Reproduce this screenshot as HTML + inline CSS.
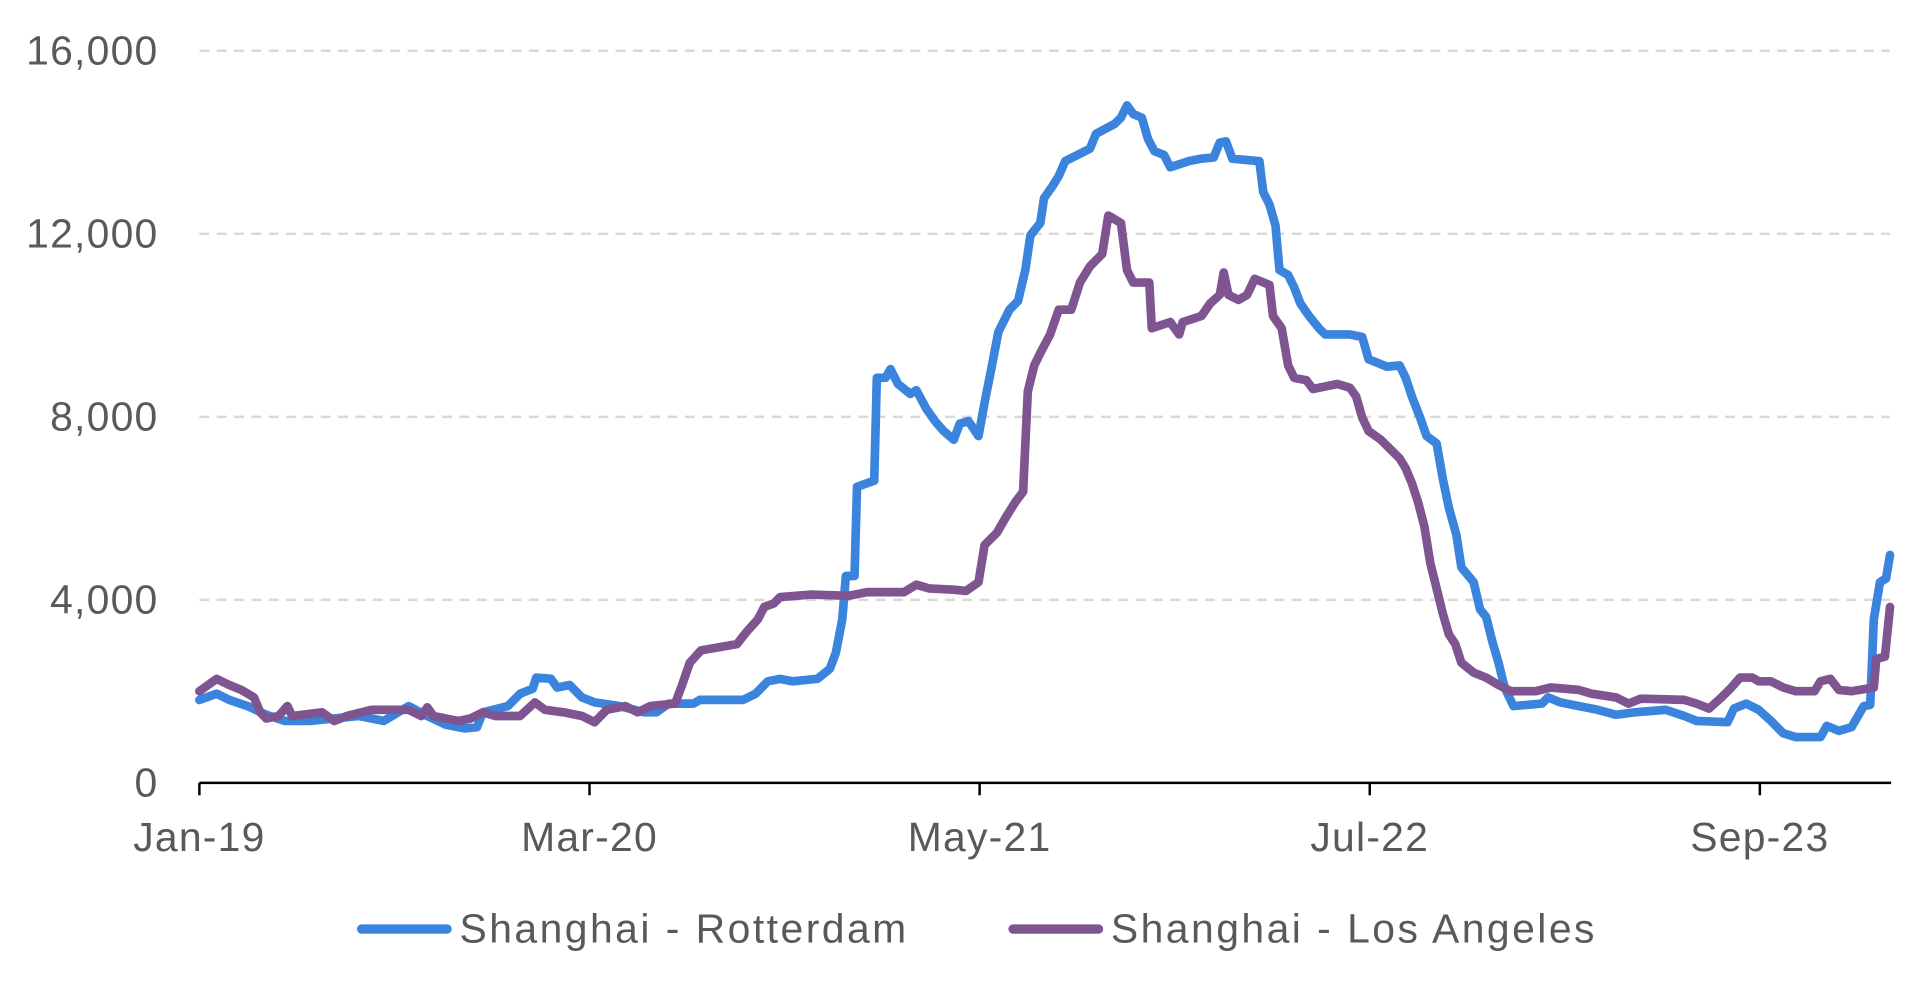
<!DOCTYPE html>
<html><head><meta charset="utf-8"><style>
html,body{margin:0;padding:0;background:#fff;}
svg{display:block;font-family:"Liberation Sans",sans-serif;}
</style></head><body>
<svg id="chart" width="1932" height="991" viewBox="0 0 1560 800" preserveAspectRatio="none">
<g id="grid"></g>
<g id="yaxis"></g>
<g id="xaxis"></g>
<g id="series"></g>
<g>
  <g>
    <line x1="292" y1="750" x2="361" y2="750" stroke="#3a84de" stroke-width="7.5" stroke-linecap="round"/>
    <text x="371" y="761" font-size="33" letter-spacing="2" fill="#595959">Shanghai - Rotterdam</text>
  </g>
  <g>
    <line x1="818" y1="750" x2="887" y2="750" stroke="#7e5590" stroke-width="7.5" stroke-linecap="round"/>
    <text x="897" y="761" font-size="33" letter-spacing="2" fill="#595959">Shanghai - Los Angeles</text>
  </g>
</g>
</svg>
<script>
// months since Jan-2019
const rotMonths=[0,0.62,1.07,1.73,2.4,3.07,3.96,4.84,5.73,6.62,7.51,8.18,8.84,9.51,9.96,10.18,11.07,11.51,11.96,12.09,12.62,12.84,13.29,13.73,14.18,15.07,15.96,16.4,16.84,17.73,17.96,19.51,19.96,20.4,20.84,21.29,22.18,22.62,22.84,23.07,23.2,23.51,23.6,24.22,24.31,24.62,24.8,25.07,25.51,25.73,26.09,26.4,26.71,27.07,27.29,27.6,27.96,28.18,28.4,28.67,29.07,29.38,29.64,29.82,30.18,30.31,30.62,30.84,31.07,31.51,31.96,32.18,32.84,33.07,33.29,33.51,33.82,34.04,34.27,34.62,34.84,35.51,35.96,36.4,36.62,36.84,37.07,38.04,38.18,38.4,38.62,38.76,39.07,39.29,39.51,39.82,40.18,40.4,41.29,41.73,41.96,42.62,43.07,43.29,43.51,43.82,44.04,44.4,44.62,44.84,45.11,45.29,45.73,45.96,46.18,46.4,46.62,46.84,47.16,48.18,48.4,48.84,49.51,50.18,50.84,51.51,52.62,53.29,53.73,54.84,55.07,55.51,55.96,56.4,56.84,57.29,58.18,58.4,58.84,59.29,59.73,59.96,60.09,60.31,60.53,60.67];
const rotValues=[1814,1949,1814,1678,1489,1354,1354,1408,1462,1354,1678,1462,1272,1191,1218,1543,1678,1949,2057,2301,2274,2084,2139,1868,1760,1678,1543,1543,1733,1733,1814,1814,1949,2220,2274,2220,2274,2490,2842,3573,4521,4521,6470,6605,8852,8852,9041,8717,8500,8581,8175,7904,7688,7498,7850,7904,7580,8310,8987,9853,10341,10530,11207,11965,12236,12777,13048,13264,13589,13724,13860,14185,14401,14537,14807,14618,14537,14076,13806,13724,13454,13589,13643,13670,13995,14022,13643,13589,12912,12642,12182,11207,11099,10828,10476,10205,9935,9799,9799,9745,9258,9096,9123,8852,8446,7959,7580,7417,6659,6010,5414,4710,4385,3790,3627,3086,2626,2084,1678,1733,1868,1760,1678,1597,1489,1543,1597,1462,1354,1326,1624,1733,1597,1354,1083,1002,1002,1245,1137,1218,1678,1705,3573,4385,4467,4981];
const laMonths=[0,0.62,1.07,1.51,1.96,2.18,2.4,2.84,3.16,3.33,4.4,4.84,5.29,6.18,7.07,7.51,7.96,8.18,8.4,9.29,9.73,10.18,10.62,11.51,12.04,12.4,13.07,13.73,14.18,14.62,15.29,15.73,16.18,17.07,17.29,17.6,18.0,19.29,19.64,20.04,20.27,20.62,20.84,21.96,23.29,23.96,25.29,25.73,26.18,27.07,27.51,27.96,28.18,28.62,28.93,29.29,29.56,29.73,29.96,30.18,30.53,30.84,31.29,31.6,31.96,32.4,32.62,33.07,33.29,33.51,34.09,34.18,34.84,35.16,35.29,35.96,36.27,36.62,36.76,36.93,37.29,37.6,37.87,38.4,38.53,38.84,39.07,39.29,39.73,39.96,40.84,41.29,41.51,41.73,41.96,42.4,42.71,43.07,43.29,43.51,43.73,43.96,44.18,44.4,44.62,44.84,45.07,45.29,45.73,46.18,46.62,47.07,47.96,48.49,49.51,49.96,50.84,51.29,51.73,53.29,53.73,54.18,54.62,54.98,55.29,55.73,55.96,56.4,56.84,57.29,57.96,58.18,58.53,58.84,59.29,60.09,60.18,60.49,60.67];
const laValues=[2003,2274,2139,2030,1868,1543,1408,1462,1678,1462,1543,1354,1462,1597,1597,1597,1462,1651,1462,1354,1408,1543,1462,1462,1760,1597,1543,1462,1326,1597,1678,1543,1678,1733,2084,2626,2896,3032,3303,3573,3844,3925,4061,4115,4088,4169,4169,4331,4250,4223,4196,4385,5197,5468,5793,6145,6361,8554,9123,9393,9799,10341,10341,10936,11288,11559,12398,12236,11207,10936,10936,9935,10070,9799,10070,10205,10476,10666,11153,10666,10557,10666,11017,10882,10205,9935,9123,8852,8798,8608,8717,8635,8446,7986,7688,7498,7309,7092,6876,6551,6145,5603,4791,4250,3709,3248,3032,2626,2409,2301,2139,2003,2003,2084,2030,1949,1868,1733,1841,1814,1733,1624,1868,2084,2301,2301,2220,2220,2084,2003,2003,2220,2274,2030,2003,2084,2707,2761,3844];
const yTicks=[0,4000,8000,12000,16000];
const yTickLabels=["0","4,000","8,000","12,000","16,000"];
const xTickMonths=[0,14,28,42,56];
const xTickLabels=["Jan-19","Mar-20","May-21","Jul-22","Sep-23"];

const NS="http://www.w3.org/2000/svg";
const X0=161,PXM=22.5,Y0=632,Y16=41;
const xs=m=>X0+m*PXM;
const ys=v=>Y0-(Y0-Y16)*v/16000;
function mk(tag,attrs,parent){const e=document.createElementNS(NS,tag);for(const k in attrs)e.setAttribute(k,attrs[k]);parent.appendChild(e);return e;}
const grid=document.getElementById('grid'),yax=document.getElementById('yaxis'),xax=document.getElementById('xaxis'),ser=document.getElementById('series');
yTicks.forEach((v,i)=>{
  if(v>0){const g=mk('line',{x1:161,x2:1526,y1:ys(v),y2:ys(v),stroke:'#d9d9d9','stroke-width':2,'stroke-dasharray':'8,6'},grid);
    
    }
  const t=mk('text',{x:128,y:ys(v)+11,'text-anchor':'end','font-size':33,'letter-spacing':1,fill:'#595959'},yax);
  
  
  t.textContent=yTickLabels[i];
});
const ax=mk('line',{x1:161,x2:1527,y1:Y0,y2:Y0,stroke:'#000','stroke-width':2},xax);


xTickMonths.forEach((m,i)=>{
  const tk=mk('line',{x1:xs(m),x2:xs(m),y1:Y0,y2:Y0+10,stroke:'#000','stroke-width':2},xax);
  
  
  const t=mk('text',{x:xs(m),y:687,'text-anchor':'middle','font-size':33,'letter-spacing':1,fill:'#595959'},xax);
  
  
  t.textContent=xTickLabels[i];
});
function line(ms,vs,color,name){
  const pts=ms.map((m,i)=>xs(m).toFixed(1)+','+ys(vs[i]).toFixed(1)).join(' ');
  const p=mk('polyline',{points:pts,fill:'none',stroke:color,'stroke-width':7,'stroke-linejoin':'round','stroke-linecap':'round'},ser);
  
  
}
line(rotMonths,rotValues,'#3a84de','series-shanghai-rotterdam');
line(laMonths,laValues,'#7e5590','series-shanghai-los-angeles');
</script>
</body></html>
